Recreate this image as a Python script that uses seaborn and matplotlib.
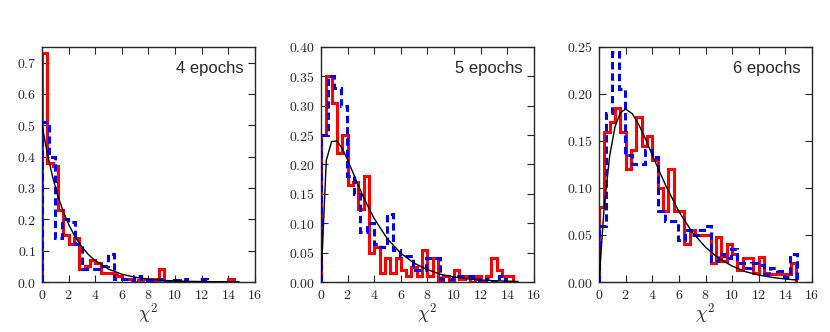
import numpy as np
import pandas as pd
import seaborn as sns
import matplotlib.pyplot as plt
from matplotlib.ticker import FuncFormatter, MultipleLocator

sns.set_style('ticks')
plt.rcParams['mathtext.fontset'] = 'cm'

# bin widths of the two histograms
red_width = 0.4
blue_width = 0.495

# panel labels
labels = ['4 epochs', '5 epochs', '6 epochs']

# red (solid) histogram heights per bin
red_4 = [0.73, 0.38, 0.37, 0.23, 0.15, 0.12, 0.14, 0.04, 0.05, 0.07, 0.06, 0.03, 0.03,
         0.03, 0.02, 0.01, 0.01, 0.0, 0.005, 0.01, 0.01, 0.0, 0.04, 0.0, 0.0, 0.005,
         0.0, 0.0, 0.0, 0.0, 0.0, 0.0, 0.0, 0.0, 0.0, 0.01, 0.0]
red_5 = [0.25, 0.35, 0.305, 0.22, 0.25, 0.165, 0.17, 0.125, 0.18, 0.05, 0.06, 0.015,
         0.04, 0.015, 0.04, 0.02, 0.01, 0.025, 0.01, 0.055, 0.01, 0.04, 0.0, 0.01, 0.0,
         0.02, 0.005, 0.01, 0.0, 0.01, 0.0, 0.01, 0.04, 0.02, 0.01, 0.01, 0.0]
red_6 = [0.08, 0.16, 0.17, 0.185, 0.16, 0.12, 0.14, 0.175, 0.145, 0.155, 0.13, 0.10,
         0.075, 0.12, 0.075, 0.075, 0.04, 0.055, 0.05, 0.05, 0.05, 0.02, 0.048, 0.022,
         0.04, 0.03, 0.013, 0.025, 0.025, 0.01, 0.027, 0.01, 0.008, 0.008, 0.008,
         0.008, 0.02]

# blue (dashed) histogram heights per bin
blue_4 = [0.51, 0.40, 0.14, 0.20, 0.19, 0.12, 0.04, 0.04, 0.04, 0.05, 0.09, 0.01, 0.01,
          0.005, 0.02, 0.01, 0.005, 0.01, 0.0, 0.0, 0.005, 0.01, 0.0, 0.0, 0.01, 0.0,
          0.0, 0.0, 0.0]
blue_5 = [0.25, 0.35, 0.33, 0.30, 0.18, 0.15, 0.085, 0.10, 0.065, 0.06, 0.115, 0.055,
          0.045, 0.045, 0.02, 0.02, 0.04, 0.04, 0.005, 0.005, 0.01, 0.01, 0.01, 0.005,
          0.0, 0.005, 0.0, 0.01, 0.0]
blue_6 = [0.06, 0.18, 0.245, 0.205, 0.135, 0.125, 0.125, 0.14, 0.133, 0.075, 0.065,
          0.065, 0.045, 0.055, 0.05, 0.055, 0.06, 0.022, 0.03, 0.025, 0.035, 0.02, 0.015,
          0.02, 0.018, 0.008, 0.015, 0.012, 0.005, 0.03]

# black reference curves
curve_x = [0, 0.4, 0.8, 1.2, 1.6, 2, 2.5, 3, 3.5, 4, 5, 6, 7, 8, 9, 10, 11, 12, 13, 14, 14.8]
curve_4 = [0.5, 0.41, 0.335, 0.274, 0.225, 0.184, 0.143, 0.112, 0.087, 0.068, 0.041,
           0.025, 0.015, 0.009, 0.0055, 0.0034, 0.002, 0.0012, 0.0008, 0.0005, 0.0003]
curve_5 = [0.0, 0.207, 0.239, 0.240, 0.227, 0.208, 0.181, 0.154, 0.130, 0.108, 0.073,
           0.049, 0.032, 0.021, 0.013, 0.0085, 0.0054, 0.0034, 0.0022, 0.0014, 0.001]
curve_6 = [0.0, 0.082, 0.134, 0.165, 0.180, 0.184, 0.179, 0.167, 0.152, 0.135, 0.103,
           0.075, 0.053, 0.037, 0.025, 0.017, 0.011, 0.0074, 0.0049, 0.0032, 0.0022]

y_max = [0.75, 0.40, 0.25]
y_step = [0.1, 0.05, 0.05]
y_fmt = ['{:.1f}', '{:.2f}', '{:.2f}']

reds = [red_4, red_5, red_6]
blues = [blue_4, blue_5, blue_6]
curves = [curve_4, curve_5, curve_6]

fig = plt.figure(figsize=(8.3, 3.32), dpi=100)
lefts = [0.0506, 0.3867, 0.7217]

for i in range(3):
    ax = fig.add_axes([lefts[i], 0.1506, 0.2566, 0.708])

    b = np.array(blues[i])
    r = np.array(reds[i])
    ax.stairs(r, np.arange(len(r) + 1) * red_width, color='#ff0000', linewidth=2.2,
              baseline=0, zorder=2)
    ax.stairs(b, np.arange(len(b) + 1) * blue_width, color='#0000ff', linewidth=2.2,
              linestyle=(0, (2.4, 1.3)), baseline=0, zorder=3)

    df = pd.DataFrame({'x': curve_x, 'y': curves[i]})
    sns.lineplot(data=df, x='x', y='y', color='black', linewidth=1.0, ax=ax, zorder=4)

    ax.set_xlim(0, 16)
    ax.set_ylim(0, y_max[i])
    ax.xaxis.set_major_locator(MultipleLocator(2))
    ax.yaxis.set_major_locator(MultipleLocator(y_step[i]))
    ax.xaxis.set_major_formatter(FuncFormatter(lambda v, p: '$%d$' % round(v)))
    ax.yaxis.set_major_formatter(FuncFormatter(lambda v, p, f=y_fmt[i]: '$' + f.format(v) + '$'))
    ax.tick_params(direction='in', top=True, right=True, length=5, width=0.8,
                   labelsize=10, pad=4)
    for s in ax.spines.values():
        s.set_linewidth(1.0)
    ax.set_xlabel(r'$\chi^2$', fontsize=13, labelpad=0)
    ax.set_ylabel('')
    ax.text(0.945, 0.91, labels[i], transform=ax.transAxes, ha='right', va='center',
            fontsize=12, family='Liberation Sans')

fig.savefig('out.png', dpi=100)
